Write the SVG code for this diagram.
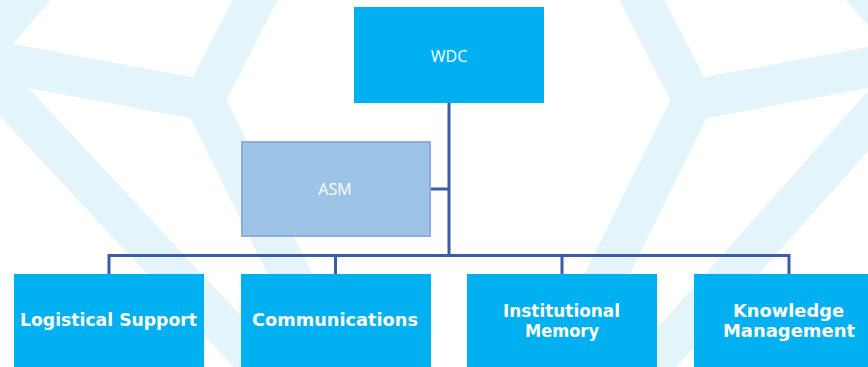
<svg xmlns="http://www.w3.org/2000/svg" width="868" height="367" viewBox="0 0 868 367">
  <style>
    .band { fill: none; stroke: #E3F4FB; stroke-width: 40; stroke-linejoin: miter; stroke-linecap: butt; }
    .box { fill: #00B0F0; }
    .asm { fill: #9DC3E6; stroke: #8FAADC; stroke-width: 2; }
    .lbl { font-family: "Open Sans", "Liberation Sans", sans-serif; font-size: 16px; fill: #FFFFFF; text-anchor: middle; }
    .blbl { font-family: "DejaVu Sans", "Liberation Sans", sans-serif; font-size: 17px; font-weight: bold; fill: #FFFFFF; text-anchor: middle; }
    .conn { fill: none; stroke: #3C5DA3; stroke-width: 3; stroke-linejoin: miter; }
  </style>
  <rect x="0" y="0" width="868" height="367" fill="#FFFFFF"/>
  <g id="background">
    <polyline class="band" points="-28,57 204,100 260,-10"/>
    <polyline class="band" points="-28,57 204,100 352,400"/>
    <polyline class="band" points="260,-10 204,100 352,400"/>
    <polyline class="band" points="45,-24 -10,39.5 -28,57 292,400"/>
    <polyline class="band" points="925,57 693,100 637,-10"/>
    <polyline class="band" points="925,57 693,100 545,400"/>
    <polyline class="band" points="637,-10 693,100 545,400"/>
    <polyline class="band" points="852,-24 907,39.5 925,57 620,400"/>
  </g>
  <g id="connectors">
    <line class="conn" x1="449" y1="103" x2="449" y2="256.5"/>
    <line class="conn" x1="431" y1="189" x2="449" y2="189"/>
    <polyline class="conn" points="109,274 109,255.5 789,255.5 789,274"/>
    <line class="conn" x1="335.5" y1="255.5" x2="335.5" y2="274"/>
    <line class="conn" x1="562" y1="255.5" x2="562" y2="274"/>
  </g>
  <g id="node-wdc">
    <rect class="box" x="354" y="7" width="190" height="96"/>
    <text class="lbl" x="449" y="62">WDC</text>
  </g>
  <g id="node-asm">
    <rect class="asm" x="242" y="142" width="188" height="94"/>
    <text class="lbl" x="335" y="195">ASM</text>
  </g>
  <g id="node-logistical">
    <rect class="box" x="14" y="274" width="190" height="110"/>
    <text class="blbl" x="108.5" y="326" textLength="177" lengthAdjust="spacingAndGlyphs">Logistical Support</text>
  </g>
  <g id="node-communications">
    <rect class="box" x="241" y="274" width="190" height="110"/>
    <text class="blbl" x="335" y="326" textLength="166" lengthAdjust="spacingAndGlyphs">Communications</text>
  </g>
  <g id="node-institutional">
    <rect class="box" x="467" y="274" width="190" height="110"/>
    <text class="blbl" x="561.5" y="317" textLength="117" lengthAdjust="spacingAndGlyphs">Institutional</text>
    <text class="blbl" x="562" y="337" textLength="74" lengthAdjust="spacingAndGlyphs">Memory</text>
  </g>
  <g id="node-knowledge">
    <rect class="box" x="694" y="274" width="190" height="110"/>
    <text class="blbl" x="788.5" y="317" textLength="111" lengthAdjust="spacingAndGlyphs">Knowledge</text>
    <text class="blbl" x="789" y="337" textLength="132" lengthAdjust="spacingAndGlyphs">Management</text>
  </g>
</svg>
